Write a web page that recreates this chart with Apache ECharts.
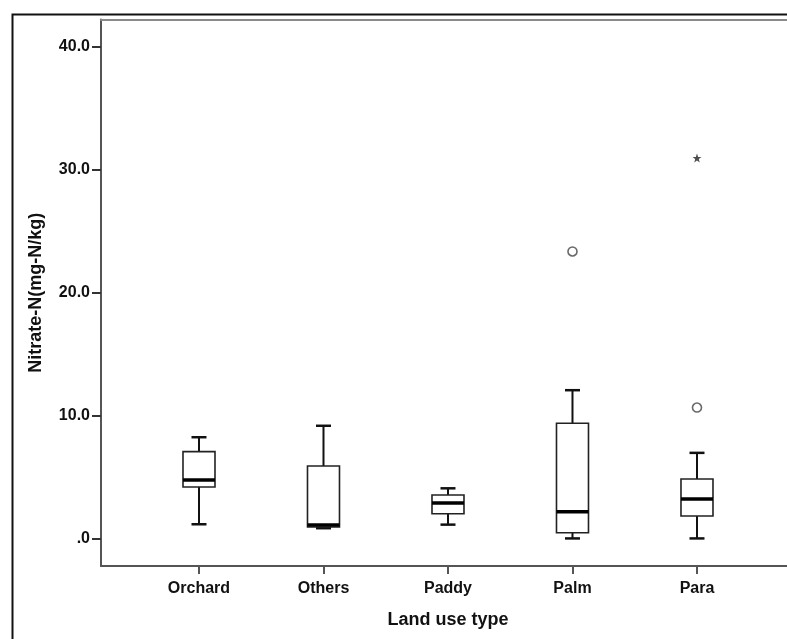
<!DOCTYPE html>
<html>
<head>
<meta charset="utf-8">
<script src="https://cdn.jsdelivr.net/npm/echarts@6/dist/echarts.min.js"></script>
<style>html,body{margin:0;padding:0;background:#fff;}#c{width:787px;height:639px;}</style>
</head>
<body>
<div id="c"></div>
<script>
const categories = ['Orchard', 'Others', 'Paddy', 'Palm', 'Para'];
// [lower whisker, Q1, median, Q3, upper whisker]
const boxValues = [
  [1.2, 4.23, 4.8, 7.1, 8.27],
  [0.88, 0.98, 1.14, 5.93, 9.2],
  [1.17, 2.06, 2.93, 3.58, 4.12],
  [0.05, 0.51, 2.22, 9.4, 12.09],
  [0.05, 1.87, 3.25, 4.88, 7.0]
];
// outliers: [category index (1-based), value]
const circleOutliers = [[4, 23.36], [5, 10.68]];
const extremeOutliers = [[5, 30.95]];
const yTicks = [0, 10, 20, 30, 40];
const xTicks = [1, 2, 3, 4, 5];

const boxData = boxValues.map((b, i) => [i + 1].concat(b));

const chart = echarts.init(document.getElementById('c'), null, {renderer: 'canvas'});
const FONT = 'Liberation Sans';
const X_MIN = 0.2129, X_MAX = 5.723;
chart.setOption({
  animation: false,
  backgroundColor: '#fff',
  graphic: [{
    type: 'rect', left: 10, top: 12, silent: true, z: 100,
    shape: {x: 0, y: 0, width: 820, height: 700},
    style: {fill: 'none', stroke: '#111', lineWidth: 2}
  }],
  grid: {
    left: 101, top: 19.5, right: 0, bottom: 73,
    show: false
  },
  xAxis: [{
    type: 'value', min: X_MIN, max: X_MAX,
    name: 'Land use type', nameLocation: 'middle', nameGap: 45,
    nameTextStyle: {fontFamily: FONT, fontWeight: 'bold', fontSize: 18, color: '#111', padding: [0, 0, 0, 8]},
    splitLine: {show: false},
    axisLine: {show: true, onZero: false, lineStyle: {color: '#555', width: 2}},
    axisTick: {show: true, length: 8, customValues: xTicks, lineStyle: {color: '#555', width: 2}},
    axisLabel: {
      customValues: xTicks, margin: 15,
      fontFamily: FONT, fontWeight: 'bold', fontSize: 16, color: '#111',
      formatter: v => categories[Math.round(v) - 1] || ''
    }
  }, {
    type: 'value', position: 'top', min: X_MIN, max: X_MAX,
    splitLine: {show: false},
    axisLine: {show: true, onZero: false, lineStyle: {color: '#8a8a8a', width: 2}},
    axisTick: {show: false},
    axisLabel: {show: false}
  }],
  yAxis: {
    type: 'value', min: -2.19, max: 42.2,
    name: 'Nitrate-N(mg-N/kg)', nameLocation: 'middle', nameGap: 56,
    nameTextStyle: {fontFamily: FONT, fontWeight: 'bold', fontSize: 18, color: '#111'},
    splitLine: {show: false},
    axisLine: {show: true, onZero: false, lineStyle: {color: '#555', width: 2}},
    axisTick: {show: true, length: 9, customValues: yTicks, lineStyle: {color: '#333', width: 2}},
    axisLabel: {
      customValues: yTicks, margin: 11,
      fontFamily: FONT, fontWeight: 'bold', fontSize: 16, color: '#111',
      formatter: v => v === 0 ? '.0' : v.toFixed(1)
    }
  },
  series: [
    {
      type: 'custom',
      data: boxData,
      encode: {x: 0, y: [1, 2, 3, 4, 5]},
      renderItem: function (params, api) {
        const x = api.coord([api.value(0), 0])[0];
        const yy = i => api.coord([api.value(0), api.value(i)])[1];
        const lo = yy(1), q1 = yy(2), med = yy(3), q3 = yy(4), hi = yy(5);
        const bw = 16, cw = 7.5;
        const ls = {stroke: '#111', lineWidth: 2};
        return {
          type: 'group',
          children: [
            {type: 'line', shape: {x1: x, y1: q3, x2: x, y2: hi}, style: ls},
            {type: 'line', shape: {x1: x, y1: q1, x2: x, y2: lo}, style: ls},
            {type: 'line', shape: {x1: x - cw, y1: hi, x2: x + cw, y2: hi}, style: {stroke: '#111', lineWidth: 2.5}},
            {type: 'line', shape: {x1: x - cw, y1: lo, x2: x + cw, y2: lo}, style: {stroke: '#111', lineWidth: 2.5}},
            {type: 'rect', shape: {x: x - bw, y: q3, width: 2 * bw, height: q1 - q3}, style: {fill: '#fff', stroke: '#222', lineWidth: 1.6}},
            {type: 'line', shape: {x1: x - bw, y1: med, x2: x + bw, y2: med}, style: {stroke: '#000', lineWidth: 3.5}}
          ]
        };
      },
      z: 3
    },
    {
      type: 'scatter',
      data: circleOutliers,
      symbol: 'circle', symbolSize: 9,
      itemStyle: {color: '#fff', borderColor: '#444', borderWidth: 1.6},
      z: 4
    },
    {
      type: 'scatter',
      data: extremeOutliers,
      symbol: 'path://M0,-5L1.2,-1.6L4.8,-1.5L1.9,0.6L2.9,4L0,2L-2.9,4L-1.9,0.6L-4.8,-1.5L-1.2,-1.6Z',
      symbolSize: 9,
      itemStyle: {color: '#222'},
      z: 4
    }
  ]
});
</script>
</body>
</html>
